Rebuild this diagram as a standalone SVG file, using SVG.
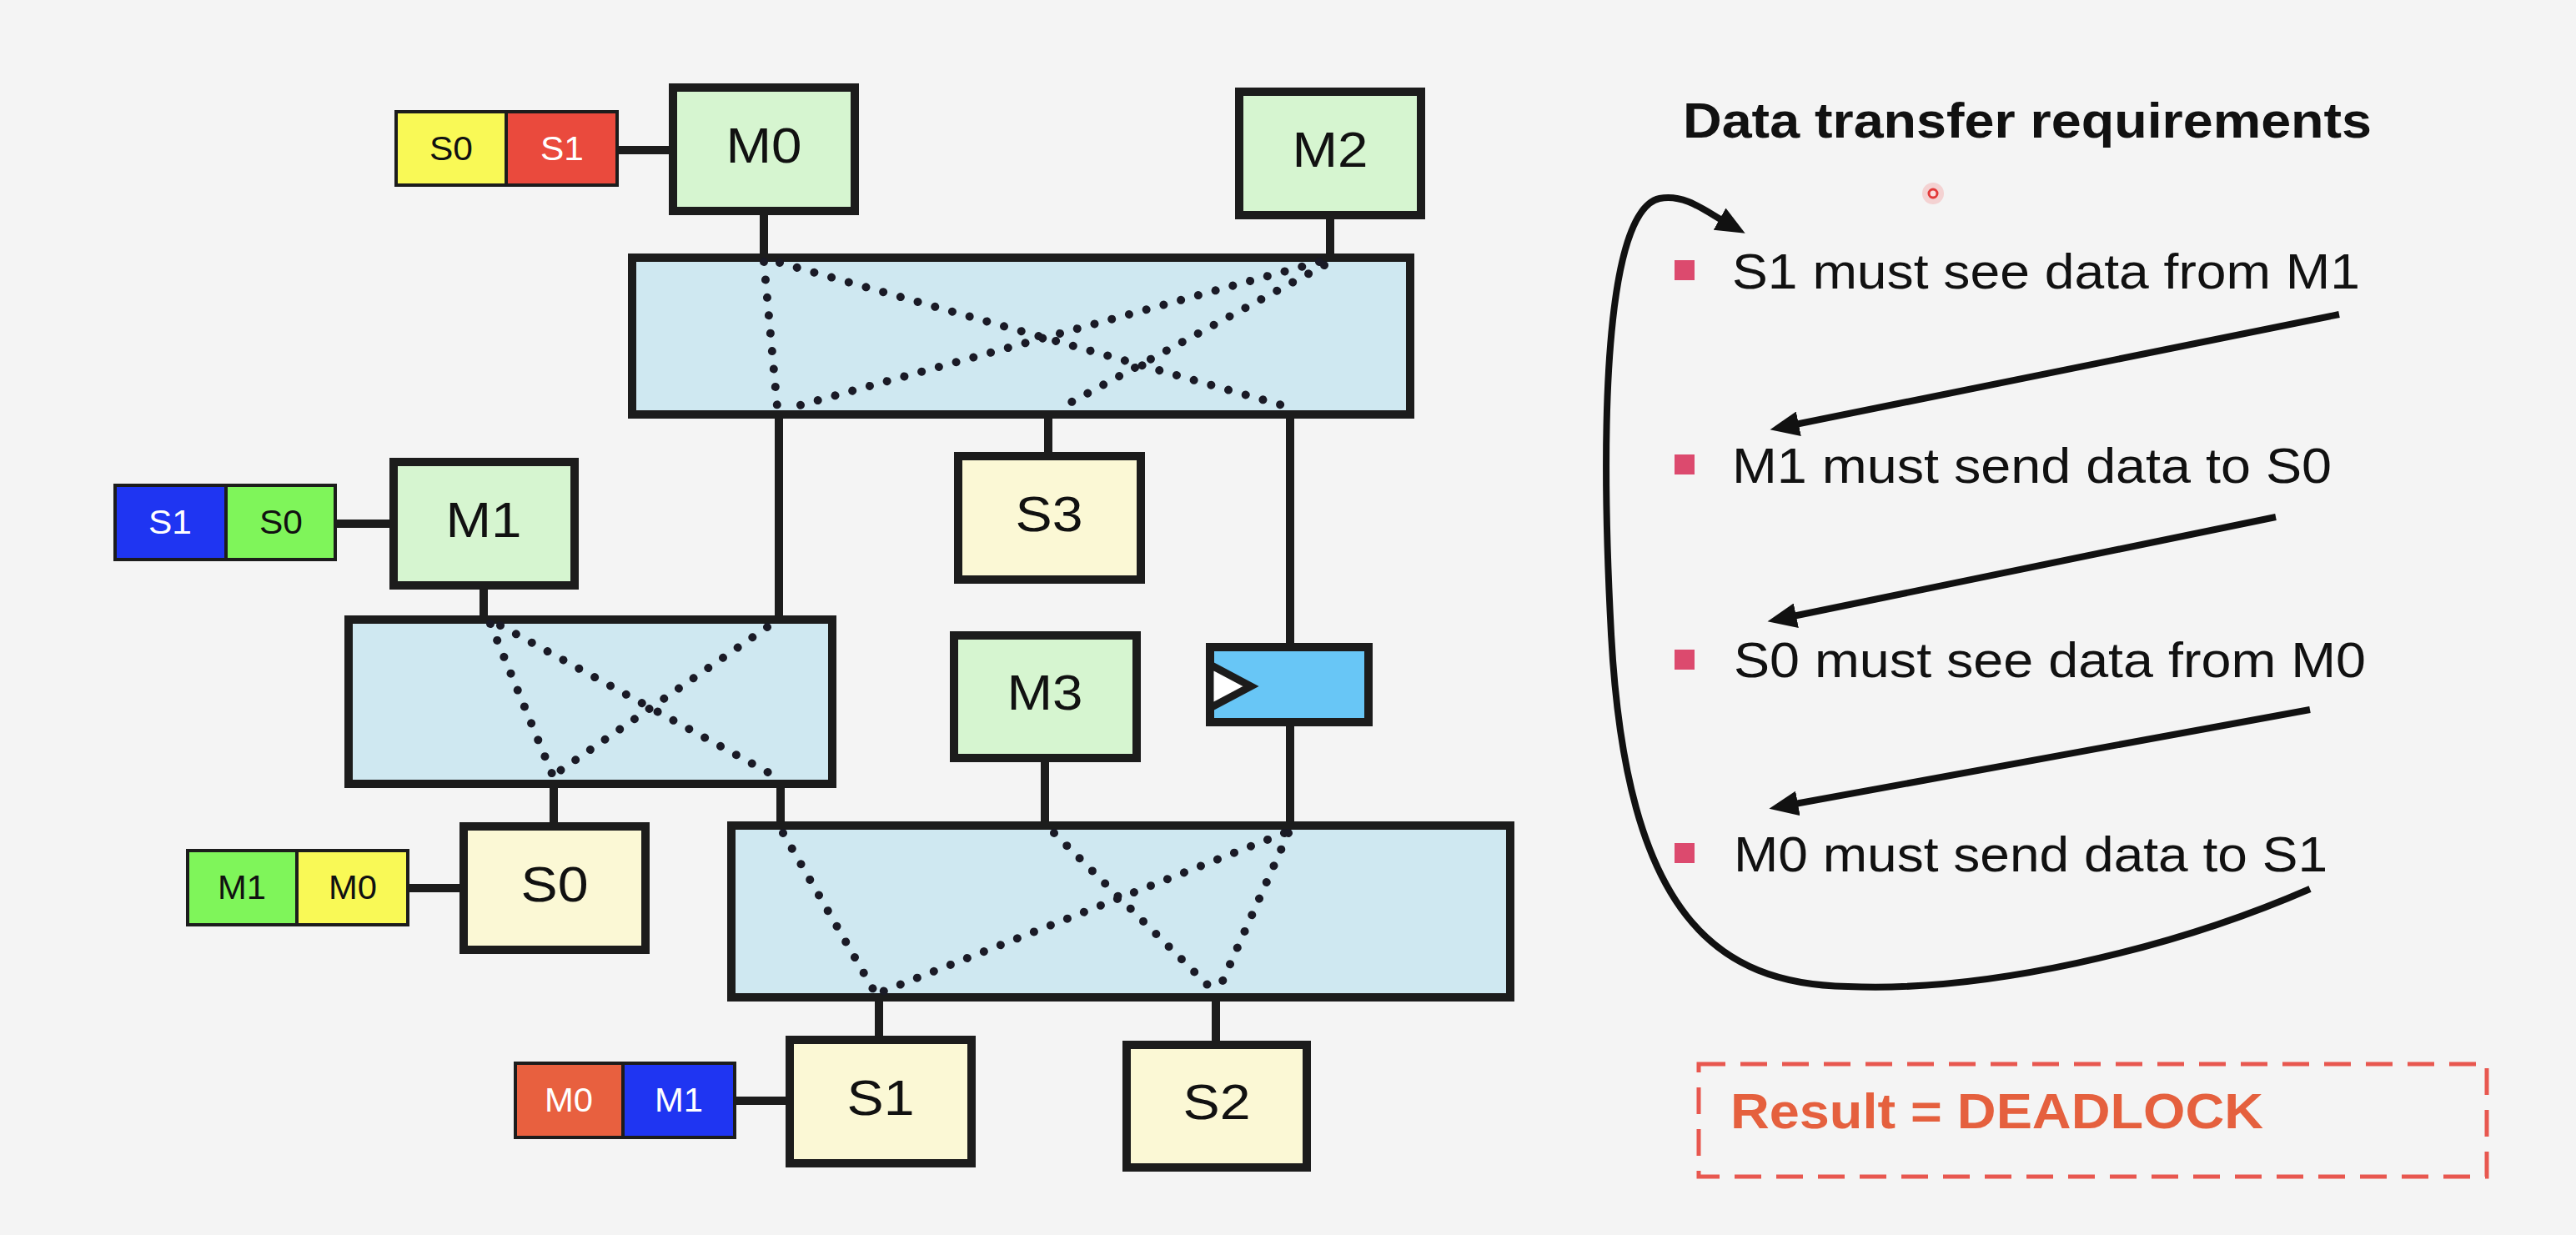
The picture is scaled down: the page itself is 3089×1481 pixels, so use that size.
<svg xmlns="http://www.w3.org/2000/svg" width="3089" height="1481" viewBox="0 0 3089 1481">
<style>
  .box{stroke:#1c1c1c;stroke-width:10}
  .m{fill:#d6f5d0}
  .s{fill:#fbf8d5}
  .xb{fill:#cfe8f1}
  .lbl{stroke:#1c1c1c;stroke-width:4}
  .wire{stroke:#1c1c1c;stroke-width:10;fill:none}
  .dot{stroke:#1a1a26;stroke-width:10;stroke-dasharray:0.01 21.5;stroke-linecap:round;fill:none}
  .nt{font-family:"Liberation Sans",Arial,sans-serif;font-size:60px;fill:#111;text-anchor:middle}
  .lt{font-family:"Liberation Sans",Arial,sans-serif;font-size:40px;text-anchor:middle}
  .arr{stroke:#111;stroke-width:8;fill:none;marker-end:url(#ah)}
  .bt{font-family:"Liberation Sans",Arial,sans-serif;font-size:60px;fill:#111}
  .bul{fill:#dc4a6e}
  .yel{fill:#f9f956}.red{fill:#ea4a3d}.blu{fill:#1f35f2}.grn{fill:#7ff55a}.org{fill:#e8603f}
</style>
<defs>
  <marker id="ah" markerUnits="userSpaceOnUse" markerWidth="36" markerHeight="30" viewBox="0 0 36 30" refX="9" refY="15" orient="auto">
    <path d="M0,0 L35,15 L0,30 z" fill="#111"/>
  </marker>
</defs>
<rect x="0" y="0" width="3089" height="1481" fill="#f4f4f4"/>

<g id="connectors">
  <line class="wire" x1="742" y1="180" x2="802" y2="180"/>
  <line class="wire" x1="916" y1="258" x2="916" y2="305"/>
  <line class="wire" x1="1595" y1="263" x2="1595" y2="305"/>
  <line class="wire" x1="934" y1="502" x2="934" y2="738"/>
  <line class="wire" x1="1257" y1="502" x2="1257" y2="542"/>
  <line class="wire" x1="1547" y1="502" x2="1547" y2="771"/>
  <line class="wire" x1="404" y1="628" x2="467" y2="628"/>
  <line class="wire" x1="580" y1="707" x2="580" y2="738"/>
  <line class="wire" x1="664" y1="945" x2="664" y2="986"/>
  <line class="wire" x1="936" y1="945" x2="936" y2="985"/>
  <line class="wire" x1="1253" y1="914" x2="1253" y2="985"/>
  <line class="wire" x1="1547" y1="871" x2="1547" y2="985"/>
  <line class="wire" x1="491" y1="1065" x2="551" y2="1065"/>
  <line class="wire" x1="1054" y1="1201" x2="1054" y2="1242"/>
  <line class="wire" x1="1458" y1="1201" x2="1458" y2="1248"/>
  <line class="wire" x1="883" y1="1320" x2="942" y2="1320"/>
</g>

<g id="xbar1">
  <rect class="box xb" x="758" y="309" width="933" height="188"/>
  <line class="dot" x1="916" y1="314" x2="932" y2="488"/>
  <line class="dot" x1="935" y1="315" x2="1545" y2="488"/>
  <line class="dot" x1="1582" y1="314" x2="952" y2="488"/>
  <line class="dot" x1="1588" y1="318" x2="1274" y2="488"/>
</g>
<g id="xbar2">
  <rect class="box xb" x="418" y="743" width="580" height="197"/>
  <line class="dot" x1="588" y1="748" x2="662" y2="928"/>
  <line class="dot" x1="600" y1="750" x2="928" y2="930"/>
  <line class="dot" x1="920" y1="752" x2="666" y2="928"/>
</g>
<g id="xbar3">
  <rect class="box xb" x="877" y="990" width="934" height="206"/>
  <line class="dot" x1="939" y1="999" x2="1048" y2="1188"/>
  <line class="dot" x1="1264" y1="999" x2="1455" y2="1188"/>
  <line class="dot" x1="1540" y1="999" x2="1056" y2="1190"/>
  <line class="dot" x1="1545" y1="999" x2="1460" y2="1190"/>
</g>

<g id="M0"><rect class="box m" x="807" y="105" width="218" height="148"/><text class="nt" x="916" y="195" textLength="91" lengthAdjust="spacingAndGlyphs">M0</text></g>
<g id="M2"><rect class="box m" x="1486" y="110" width="218" height="148"/><text class="nt" x="1595" y="200" textLength="91" lengthAdjust="spacingAndGlyphs">M2</text></g>
<g id="M1"><rect class="box m" x="472" y="554" width="217" height="148"/><text class="nt" x="580" y="644" textLength="91" lengthAdjust="spacingAndGlyphs">M1</text></g>
<g id="S3"><rect class="box s" x="1149" y="547" width="219" height="148"/><text class="nt" x="1258" y="637" textLength="81" lengthAdjust="spacingAndGlyphs">S3</text></g>
<g id="M3"><rect class="box m" x="1144" y="762" width="219" height="147"/><text class="nt" x="1253" y="851" textLength="91" lengthAdjust="spacingAndGlyphs">M3</text></g>
<g id="S0"><rect class="box s" x="556" y="991" width="218" height="148"/><text class="nt" x="665" y="1081" textLength="81" lengthAdjust="spacingAndGlyphs">S0</text></g>
<g id="S1"><rect class="box s" x="947" y="1247" width="218" height="148"/><text class="nt" x="1056" y="1337" textLength="81" lengthAdjust="spacingAndGlyphs">S1</text></g>
<g id="S2"><rect class="box s" x="1351" y="1253" width="216" height="147"/><text class="nt" x="1459" y="1342" textLength="81" lengthAdjust="spacingAndGlyphs">S2</text></g>

<g id="register">
  <rect class="box" x="1451" y="776" width="190" height="90" fill="#68c6f6"/>
  <polygon points="1451,797 1500,823 1451,849" fill="#ffffff" stroke="#1c1c1c" stroke-width="9" stroke-linejoin="miter"/>
</g>

<g id="label-M0">
  <rect class="lbl yel" x="475" y="134" width="132" height="88"/>
  <rect class="lbl red" x="607" y="134" width="133" height="88"/>
  <text class="lt" x="541" y="192" fill="#111" textLength="52" lengthAdjust="spacingAndGlyphs">S0</text>
  <text class="lt" x="674" y="192" fill="#fff" textLength="52" lengthAdjust="spacingAndGlyphs">S1</text>
</g>
<g id="label-M1">
  <rect class="lbl blu" x="138" y="582" width="133" height="89"/>
  <rect class="lbl grn" x="271" y="582" width="131" height="89"/>
  <text class="lt" x="204" y="640" fill="#fff" textLength="52" lengthAdjust="spacingAndGlyphs">S1</text>
  <text class="lt" x="337" y="640" fill="#111" textLength="52" lengthAdjust="spacingAndGlyphs">S0</text>
</g>
<g id="label-S0">
  <rect class="lbl grn" x="225" y="1020" width="131" height="89"/>
  <rect class="lbl yel" x="356" y="1020" width="133" height="89"/>
  <text class="lt" x="290" y="1078" fill="#111" textLength="58" lengthAdjust="spacingAndGlyphs">M1</text>
  <text class="lt" x="423" y="1078" fill="#111" textLength="58" lengthAdjust="spacingAndGlyphs">M0</text>
</g>
<g id="label-S1">
  <rect class="lbl org" x="618" y="1275" width="129" height="89"/>
  <rect class="lbl blu" x="747" y="1275" width="134" height="89"/>
  <text class="lt" x="682" y="1333" fill="#fff" textLength="58" lengthAdjust="spacingAndGlyphs">M0</text>
  <text class="lt" x="814" y="1333" fill="#fff" textLength="58" lengthAdjust="spacingAndGlyphs">M1</text>
</g>

<g id="requirements">
  <text x="2018" y="165" font-family="'Liberation Sans',Arial,sans-serif" font-weight="bold" font-size="60" fill="#111" textLength="826" lengthAdjust="spacingAndGlyphs">Data transfer requirements</text>
  <rect class="bul" x="2008" y="312" width="24" height="24"/>
  <text class="bt" x="2077" y="346" textLength="753" lengthAdjust="spacingAndGlyphs">S1 must see data from M1</text>
  <rect class="bul" x="2008" y="545" width="24" height="24"/>
  <text class="bt" x="2077" y="579" textLength="719" lengthAdjust="spacingAndGlyphs">M1 must send data to S0</text>
  <rect class="bul" x="2008" y="779" width="24" height="24"/>
  <text class="bt" x="2079" y="812" textLength="758" lengthAdjust="spacingAndGlyphs">S0 must see data from M0</text>
  <rect class="bul" x="2008" y="1011" width="24" height="24"/>
  <text class="bt" x="2079" y="1045" textLength="712" lengthAdjust="spacingAndGlyphs">M0 must send data to S1</text>
</g>

<g id="cycle-arrows">
  <line class="arr" x1="2805" y1="377" x2="2148" y2="510"/>
  <line class="arr" x1="2729" y1="620" x2="2145" y2="740"/>
  <line class="arr" x1="2770" y1="851" x2="2147" y2="965"/>
  <path class="arr" d="M2770,1066 C2600,1140 2380,1190 2216,1183 C2060,1180 1950,1100 1932,760 C1915,440 1935,250 1990,238 C2020,232 2045,253 2070,267"/>
</g>

<g id="result">
  <rect x="2037" y="1276" width="945" height="135" fill="none" stroke="#e8574f" stroke-width="5" stroke-dasharray="32 18"/>
  <text x="2075" y="1353" font-family="'Liberation Sans',Arial,sans-serif" font-weight="bold" font-size="60" fill="#e5603e" textLength="639" lengthAdjust="spacingAndGlyphs">Result = DEADLOCK</text>
</g>

<g id="pointer">
  <circle cx="2318" cy="232" r="13" fill="#f26a6a" opacity="0.25"/>
  <circle cx="2318" cy="232" r="5" fill="#fbe0e0" stroke="#e23a3a" stroke-width="3"/>
</g>
</svg>
